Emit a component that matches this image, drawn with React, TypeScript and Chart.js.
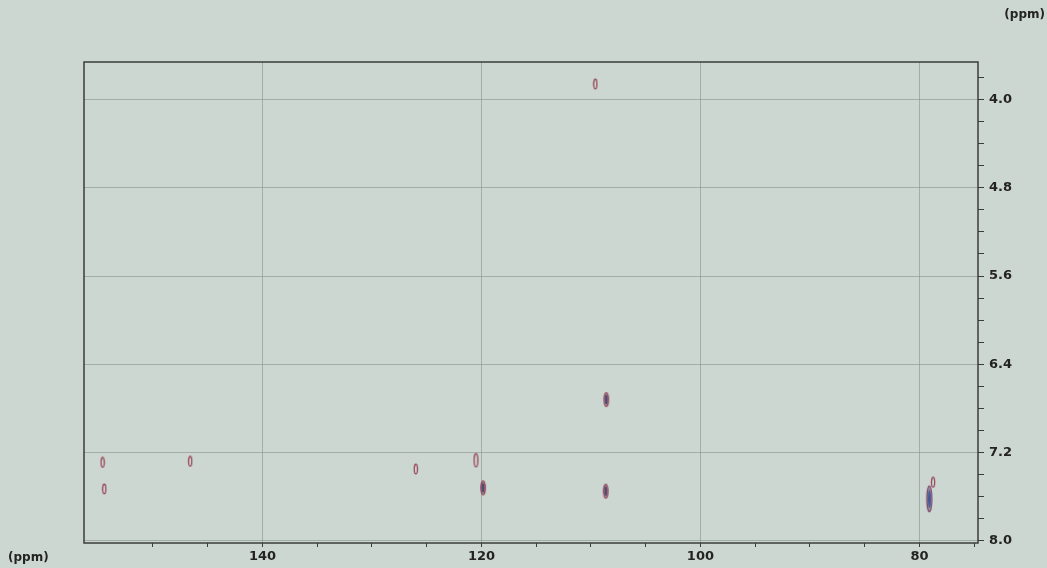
import React, { useEffect, useRef } from "react";
import { Chart, registerables } from "chart.js";

Chart.register(...registerables);

// 13C shift (x, ppm) and 1H shift (y, ppm) of each cross peak
const carbonShift = [154.6, 154.45, 146.6, 126.0, 120.5, 119.85, 108.6, 108.65, 109.6, 79.1, 78.75];
const protonShift = [7.29, 7.53, 7.28, 7.35, 7.27, 7.52, 6.72, 7.55, 3.86, 7.62, 7.47];
// relative contour level of each peak
const peakLevel = [1, 1, 1, 1, 2, 3, 3, 3, 1, 4, 1];

const xTickValues = [150, 145, 140, 135, 130, 125, 120, 115, 110, 105, 100, 95, 90, 85, 80, 75];
const xLabelValues = [140, 120, 100, 80];
const yTickValues = [3.8, 4.0, 4.2, 4.4, 4.6, 4.8, 5.0, 5.2, 5.4, 5.6, 5.8, 6.0, 6.2, 6.4, 6.6, 6.8, 7.0, 7.2, 7.4, 7.6, 7.8, 8.0];
const yLabelValues = [4.0, 4.8, 5.6, 6.4, 7.2, 8.0];
const xRange = [74.65, 156.3];
const yRange = [3.66, 8.02];
const axisUnit = "(ppm)";

const BG = "#cdd7d1";
const GRID = "rgba(135,145,140,0.6)";
const FRAME = "#3a3d3b";
const TEXT = "#232323";
const FONT = "'DejaVu Sans', 'Liberation Sans', Arial, sans-serif";

function makePeak(level: number): HTMLCanvasElement {
  const dims = [
    [6, 12, 1.6, 4.8],
    [7, 16, 1.9, 6.6],
    [8, 17, 2.2, 7.0],
    [9, 30, 2.5, 13],
  ][level - 1];
  const [w, h, rx, ry] = dims;
  const c = document.createElement("canvas");
  c.width = w;
  c.height = h;
  const g = c.getContext("2d")!;
  const cx = w / 2, cy = h / 2;
  if (level >= 3) {
    g.beginPath();
    g.ellipse(cx, cy, rx, ry, 0, 0, Math.PI * 2);
    g.fillStyle = "rgba(110,80,110,0.45)";
    g.fill();
    g.beginPath();
    g.ellipse(cx, cy, rx * 0.6, ry * 0.7, 0, 0, Math.PI * 2);
    g.fillStyle = level === 4 ? "#46579a" : "#4d4a72";
    g.fill();
  }
  g.beginPath();
  g.ellipse(cx, cy, rx, ry, 0, 0, Math.PI * 2);
  g.strokeStyle = level === 4 ? "#7a4466" : "#933a50";
  g.lineWidth = 1.2;
  g.stroke();
  return c;
}

const isIn = (arr: number[], v: number) => arr.some((a) => Math.abs(a - v) < 1e-6);

export default function App() {
  const ref = useRef<HTMLCanvasElement | null>(null);

  useEffect(() => {
    document.body.style.margin = "0";
    document.body.style.background = BG;
    const styles = [1, 2, 3, 4].map(makePeak);
    const points = carbonShift.map((c, i) => ({ x: c, y: protonShift[i] }));

    const framePlugin = {
      id: "frameAndUnits",
      afterDraw(chart: any) {
        const { ctx, chartArea } = chart;
        ctx.save();
        ctx.strokeStyle = FRAME;
        ctx.lineWidth = 1.5;
        ctx.strokeRect(chartArea.left, chartArea.top, chartArea.right - chartArea.left, chartArea.bottom - chartArea.top);
        ctx.fillStyle = TEXT;
        ctx.font = `bold 12px ${FONT}`;
        ctx.textBaseline = "middle";
        ctx.textAlign = "left";
        ctx.fillText(axisUnit, 8, 558);
        ctx.textAlign = "right";
        ctx.fillText(axisUnit, 1045, 15);
        ctx.restore();
      },
    };

    const chart = new Chart(ref.current!, {
      type: "scatter",
      data: {
        datasets: [
          {
            data: points,
            pointStyle: (ctx: any) => styles[peakLevel[ctx.dataIndex] - 1],
            pointRadius: 5,
          } as any,
        ],
      },
      options: {
        animation: false,
        responsive: false,
        devicePixelRatio: 1,
        layout: { padding: { top: 62, left: 84, right: 0, bottom: 0 } },
        plugins: { legend: { display: false }, tooltip: { enabled: false } },
        scales: {
          x: {
            type: "linear",
            position: "bottom",
            reverse: true,
            min: xRange[0],
            max: xRange[1],
            afterBuildTicks: (scale: any) => {
              scale.ticks = xTickValues.map((v) => ({ value: v }));
            },
            afterFit: (scale: any) => {
              scale.height = 25;
            },
            border: { display: false },
            grid: {
              color: (ctx: any) => (ctx.tick && isIn(xLabelValues, ctx.tick.value) ? GRID : "transparent"),
              tickColor: FRAME,
              tickLength: 4,
              lineWidth: 1,
            },
            ticks: {
              autoSkip: false,
              maxRotation: 0,
              padding: 2,
              color: TEXT,
              font: { family: FONT, size: 13, weight: "bold" },
              callback: (v: any) => (isIn(xLabelValues, Number(v)) ? String(Math.round(Number(v))) : ""),
            },
          },
          y: {
            type: "linear",
            position: "right",
            reverse: true,
            min: yRange[0],
            max: yRange[1],
            afterBuildTicks: (scale: any) => {
              scale.ticks = yTickValues.map((v) => ({ value: v }));
            },
            afterFit: (scale: any) => {
              scale.width = 69;
            },
            border: { display: false },
            grid: {
              color: (ctx: any) => (ctx.tick && isIn(yLabelValues, ctx.tick.value) ? GRID : "transparent"),
              tickColor: FRAME,
              tickLength: 6,
              lineWidth: 1,
            },
            ticks: {
              autoSkip: false,
              padding: 5,
              color: TEXT,
              font: { family: FONT, size: 13, weight: "bold" },
              callback: (v: any) => (isIn(yLabelValues, Number(v)) ? Number(v).toFixed(1) : ""),
            },
          },
        },
      } as any,
      plugins: [framePlugin],
    });
    return () => chart.destroy();
  }, []);

  return (
    <div style={{ width: 1047, height: 568, background: BG }}>
      <canvas ref={ref} width={1047} height={568} style={{ display: "block" }} />
    </div>
  );
}
